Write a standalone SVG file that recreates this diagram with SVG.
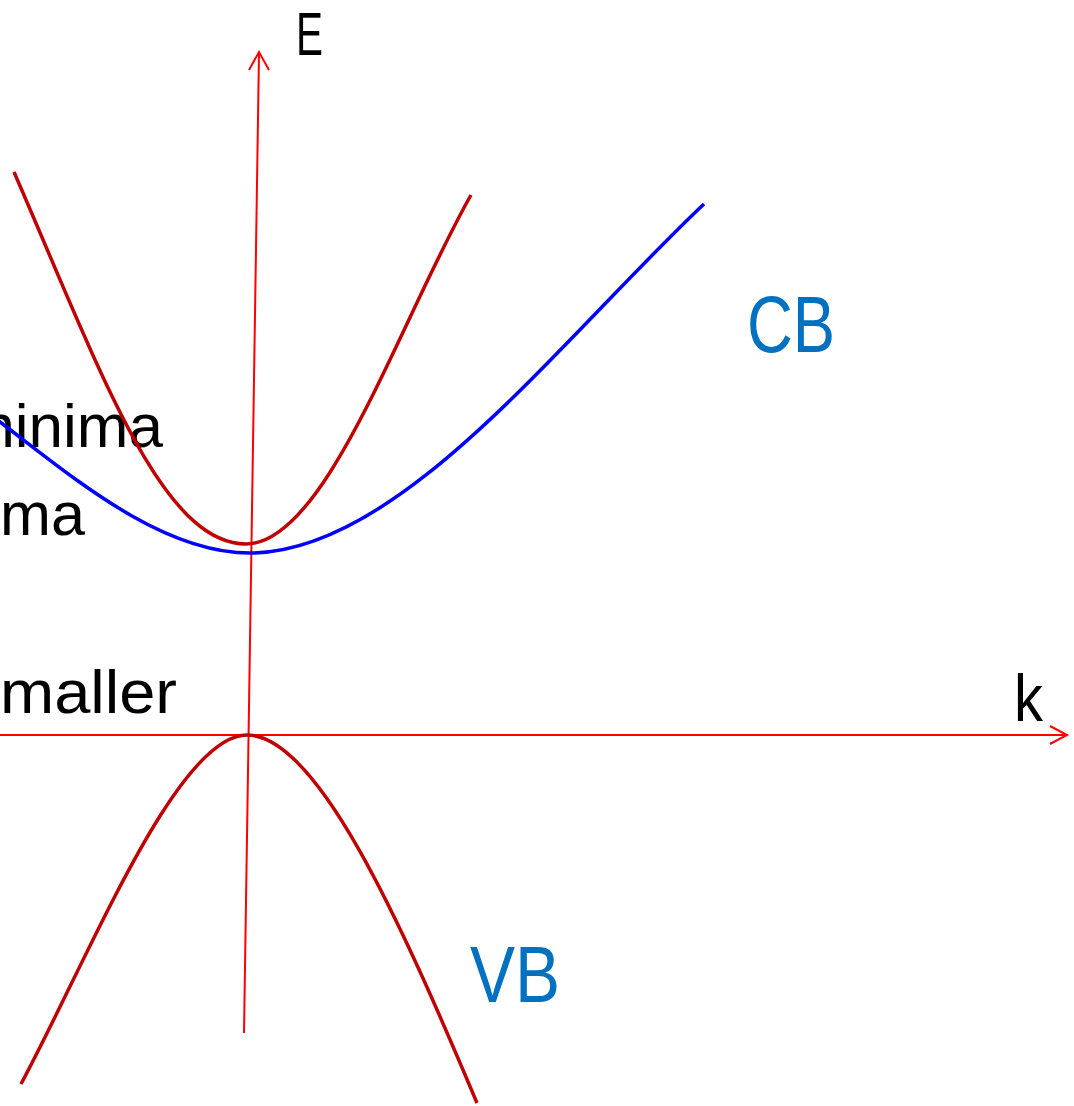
<svg xmlns="http://www.w3.org/2000/svg" width="1074" height="1106" viewBox="0 0 1074 1106">
<style>
.axis{fill:none;stroke:#ff0000;stroke-width:2}
.band{fill:none;stroke:#c00000;stroke-width:3.5}
.band2{fill:none;stroke:#0000ff;stroke-width:3.5}
.lbl{font-family:"Liberation Sans",Arial,sans-serif;fill:#000000}
.blbl{font-family:"Liberation Sans",Arial,sans-serif;fill:#0070c0}
</style>
<rect x="0" y="0" width="1074" height="1106" fill="#ffffff"/>
<g id="texts">
<text class="lbl" x="163" y="447" font-size="62" text-anchor="end">minima</text>
<text class="lbl" x="0" y="535" font-size="62" textLength="85" lengthAdjust="spacingAndGlyphs">ma</text>
<text class="lbl" x="0" y="713" font-size="62" textLength="177" lengthAdjust="spacingAndGlyphs">maller</text>
</g>
<g id="connectors">
<path id="e-axis" class="axis" d="M244,1033 L259,53"/>
<path class="axis" d="M249,70 L259,52 L269,70"/>
<path id="k-axis" class="axis" d="M0,735 L1066,735"/>
<path class="axis" d="M1050,726 L1067,735 L1050,744"/>
</g>
<g id="cb-heavy">
<path class="band" d="M14,172 C100,370 161,544 246,544 C326,544 400,320 471,195"/>
</g>
<g id="cb-light">
<path class="band2" d="M-20,407 L0,422 C70,475 160,553 250,553 C400,553 560,340 704,204"/>
</g>
<g id="vb">
<path class="band" d="M21,1084 C90,955 177,735 247,735 C317,735 400,920 477,1103"/>
</g>
<g id="label-E"><text class="lbl" x="296" y="55" font-size="62" textLength="27" lengthAdjust="spacingAndGlyphs">E</text></g>
<g id="label-k"><text class="lbl" x="1014" y="721" font-size="66" textLength="29" lengthAdjust="spacingAndGlyphs">k</text></g>
<g id="label-CB"><text class="blbl" x="747" y="352" font-size="80" textLength="88" lengthAdjust="spacingAndGlyphs">CB</text></g>
<g id="label-VB"><text class="blbl" x="470" y="1002" font-size="80" textLength="90" lengthAdjust="spacingAndGlyphs">VB</text></g>
</svg>
